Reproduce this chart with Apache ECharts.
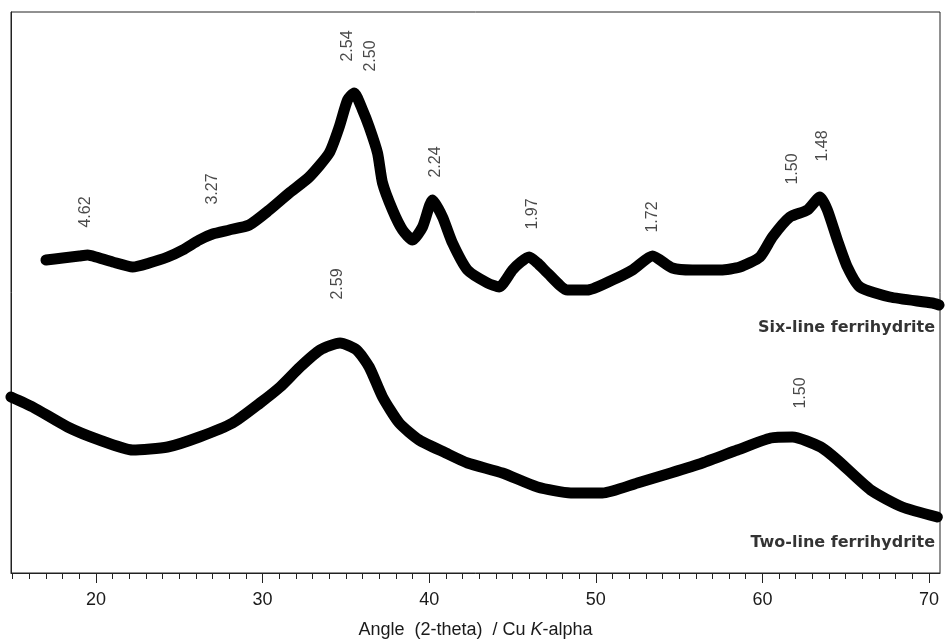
<!DOCTYPE html>
<html>
<head>
<meta charset="utf-8">
<script src="https://cdn.jsdelivr.net/npm/echarts@6/dist/echarts.min.js"></script>
<style>html,body{margin:0;padding:0;background:#fff}#c{width:950px;height:641px}</style>
</head>
<body>
<div id="c"></div>
<script>
// Six-line ferrihydrite (2-theta, arbitrary intensity)
var sixX = [17.0,18.0,19.0,19.5,20.0,21.0,22.2,23.2,24.3,25.2,26.2,27.0,28.0,29.2,30.4,31.6,32.8,34.0,34.6,35.1,35.5,36.0,36.4,36.9,37.2,37.8,38.4,39.0,39.6,40.2,40.8,41.4,42.3,43.5,44.2,45.0,45.5,46.0,46.5,47.1,48.3,49.5,51.0,52.2,53.4,54.6,55.8,57.5,58.65,59.85,60.6,61.65,62.7,63.45,63.9,64.5,65.1,65.85,67.65,70.2,70.6];
var sixY = [313,315,317,318,316,311,306,310,316,323,333,339,343,348,363,380,396,420,446,473,480,463,446,420,390,363,343,333,346,373,356,330,303,290,286,303,311,316,310,300,283,283,293,303,317,305,303,303,306,316,336,356,363,376,363,333,306,286,276,270,268];
// Two-line ferrihydrite
var twoX = [14.9,16.2,18.3,20.2,22.2,24.3,26.2,28.2,29.85,31.05,32.25,33.45,34.65,35.65,36.4,37.2,38.2,39.4,41.0,42.3,44.4,46.5,48.5,50.4,52.5,54.5,56.4,58.5,60.5,61.8,63.5,64.5,66.5,68.4,70.5];
var twoY = [176,166,146,133,123,126,136,150,170,186,206,223,230,223,206,176,150,133,120,110,100,86,80,80,90,100,110,123,135,136,126,113,83,66,56];
// d-spacing annotations
var peakLabels = ['4.62','3.27','2.54','2.50','2.24','1.97','1.72','1.50','1.48','2.59','1.50'];
var peakX = [19.4,27.0,35.1,36.5,40.4,46.2,53.4,61.8,63.6,34.5,62.3];
var peakY = [361,384,527,517,411,359,356,404,427,289,180];
// sample names
var sampleNames = ['Six-line ferrihydrite','Two-line ferrihydrite'];
var sampleX = [70.36,70.36];
var sampleY = [245,30];
// ticks
var majorTicks = [20,30,40,50,60,70];
var minorTicks = [];
for (var t = 15; t <= 70; t++) minorTicks.push(t);

function zip(a,b){return a.map(function(v,i){return [v,b[i]];});}

var chart = echarts.init(document.getElementById('c'));
var XMIN = 14.9, XMAX = 70.66;
var FONT = 'Liberation Sans, Arial, sans-serif';
chart.setOption({
  animation:false,
  backgroundColor:'#fff',
  grid:{left:11,right:10,top:12,bottom:68,show:true,borderColor:'#222',borderWidth:1,
    containLabel:false,outerBoundsMode:'none'},
  xAxis:[{
    type:'value',min:XMIN,max:XMAX,position:'bottom',
    axisLine:{show:true,lineStyle:{color:'#222',width:1}},
    axisTick:{show:true,customValues:majorTicks,length:10,lineStyle:{color:'#222'}},
    axisLabel:{show:true,customValues:majorTicks,margin:18,fontSize:18,color:'#1a1a1a',fontFamily:FONT},
    splitLine:{show:false},
    name:'Angle  (2-theta)  / Cu {i|K}-alpha',nameLocation:'middle',nameGap:48,
    nameTextStyle:{fontSize:18,color:'#1a1a1a',fontFamily:FONT,
      rich:{i:{fontStyle:'italic',fontSize:18,color:'#1a1a1a',fontFamily:FONT}}}
  },{
    type:'value',min:XMIN,max:XMAX,position:'bottom',
    axisLine:{show:false},
    axisTick:{show:true,customValues:minorTicks,length:6,lineStyle:{color:'#222'}},
    axisLabel:{show:false},splitLine:{show:false}
  }],
  yAxis:{type:'value',min:0,max:561,show:true,
    axisLine:{show:true,lineStyle:{color:'#222'}},axisTick:{show:false},axisLabel:{show:false},splitLine:{show:false}},
  series:[{
    type:'line',data:zip(sixX,sixY),smooth:0.2,symbol:'none',
    lineStyle:{color:'#000',width:11,join:'round',cap:'round'}
  },{
    type:'line',data:zip(twoX,twoY),smooth:0.2,symbol:'none',
    lineStyle:{color:'#000',width:11,join:'round',cap:'round'}
  },{
    type:'scatter',symbolSize:0,
    data:peakX.map(function(x,i){return {value:[x,peakY[i]],name:peakLabels[i]};}),
    label:{show:true,position:'inside',rotate:90,formatter:function(p){return p.name;},
      fontSize:16,color:'#1a1a1a',fontFamily:FONT}
  },{
    type:'scatter',symbolSize:0,
    data:sampleX.map(function(x,i){return {value:[x,sampleY[i]],name:sampleNames[i]};}),
    label:{show:true,position:'inside',align:'right',verticalAlign:'middle',formatter:function(p){return p.name;},
      fontSize:16,fontWeight:'bold',color:'#000',fontFamily:'DejaVu Sans, sans-serif'}
  }]
});
</script>
</body>
</html>
